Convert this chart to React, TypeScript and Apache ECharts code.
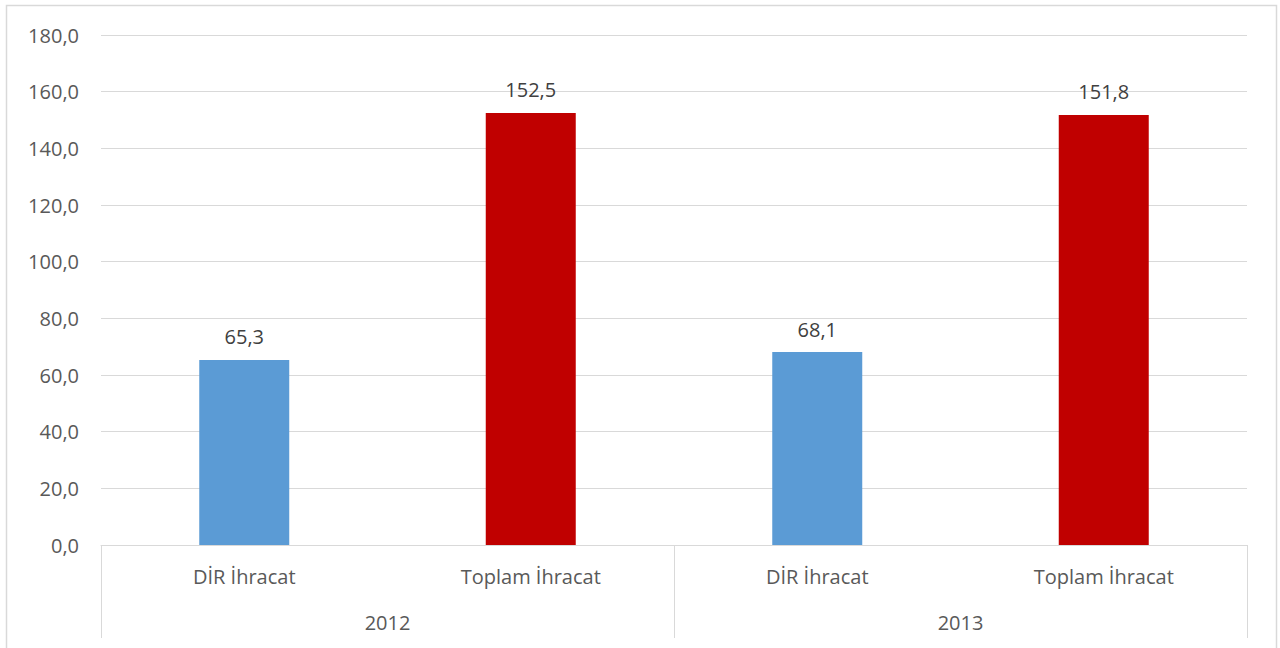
import React, { useEffect, useRef } from "react";
import * as echarts from "echarts";

const categories = ["DİR İhracat", "Toplam İhracat", "DİR İhracat", "Toplam İhracat"];
const years = ["2012", "2013"];
const values = [65.3, 152.5, 68.1, 151.8];
const colors = ["#5B9BD5", "#C00000", "#5B9BD5", "#C00000"];
const yTicks = { min: 0, max: 180, interval: 20 };

const fmt = (v: number) => v.toFixed(1).replace(".", ",");

export default function App() {
  const ref = useRef<HTMLDivElement>(null);
  useEffect(() => {
    document.body.style.margin = "0";
    const chart = echarts.init(ref.current!, null, { renderer: "svg" });
    const font = "'Open Sans', 'Liberation Sans', sans-serif";
    chart.setOption({
      animation: false,
      backgroundColor: "#ffffff",
      textStyle: { fontFamily: font },
      grid: { left: 101, right: 33, top: 35, bottom: 103, containLabel: false },
      graphic: [
        {
          type: "rect",
          shape: { x: 6.5, y: 5.5, width: 1270, height: 700 },
          style: { fill: "none", stroke: "#D9D9D9", lineWidth: 1.5 },
          silent: true,
        },
      ],
      xAxis: [
        {
          type: "category",
          data: categories,
          position: "bottom",
          axisLine: { show: true, lineStyle: { color: "#D9D9D9", width: 1 } },
          axisTick: { show: false },
          axisLabel: { color: "#595959", fontSize: 20, margin: 21, fontFamily: font },
        },
        {
          type: "category",
          data: years,
          position: "bottom",
          axisLine: { show: false },
          axisTick: { show: true, length: 93, lineStyle: { color: "#D9D9D9", width: 1 } },
          axisLabel: { color: "#595959", fontSize: 20, margin: 67, fontFamily: font },
        },
      ],
      yAxis: {
        type: "value",
        min: yTicks.min,
        max: yTicks.max,
        interval: yTicks.interval,
        axisLine: { show: false },
        axisTick: { show: false },
        splitLine: { lineStyle: { color: "#D9D9D9", width: 1 } },
        axisLabel: {
          color: "#595959",
          fontSize: 20,
          margin: 22,
          fontFamily: font,
          formatter: (v: number) => fmt(v),
        },
      },
      series: [
        {
          type: "bar",
          xAxisIndex: 0,
          barWidth: 90,
          data: values.map((v, i) => ({ value: v, itemStyle: { color: colors[i] } })),
          label: {
            show: true,
            position: "top",
            distance: 13,
            color: "#404040",
            fontSize: 20,
            fontFamily: font,
            formatter: (p: any) => fmt(p.value),
          },
        },
      ],
    });
    return () => chart.dispose();
  }, []);
  return <div ref={ref} style={{ width: 1280, height: 648 }} />;
}
